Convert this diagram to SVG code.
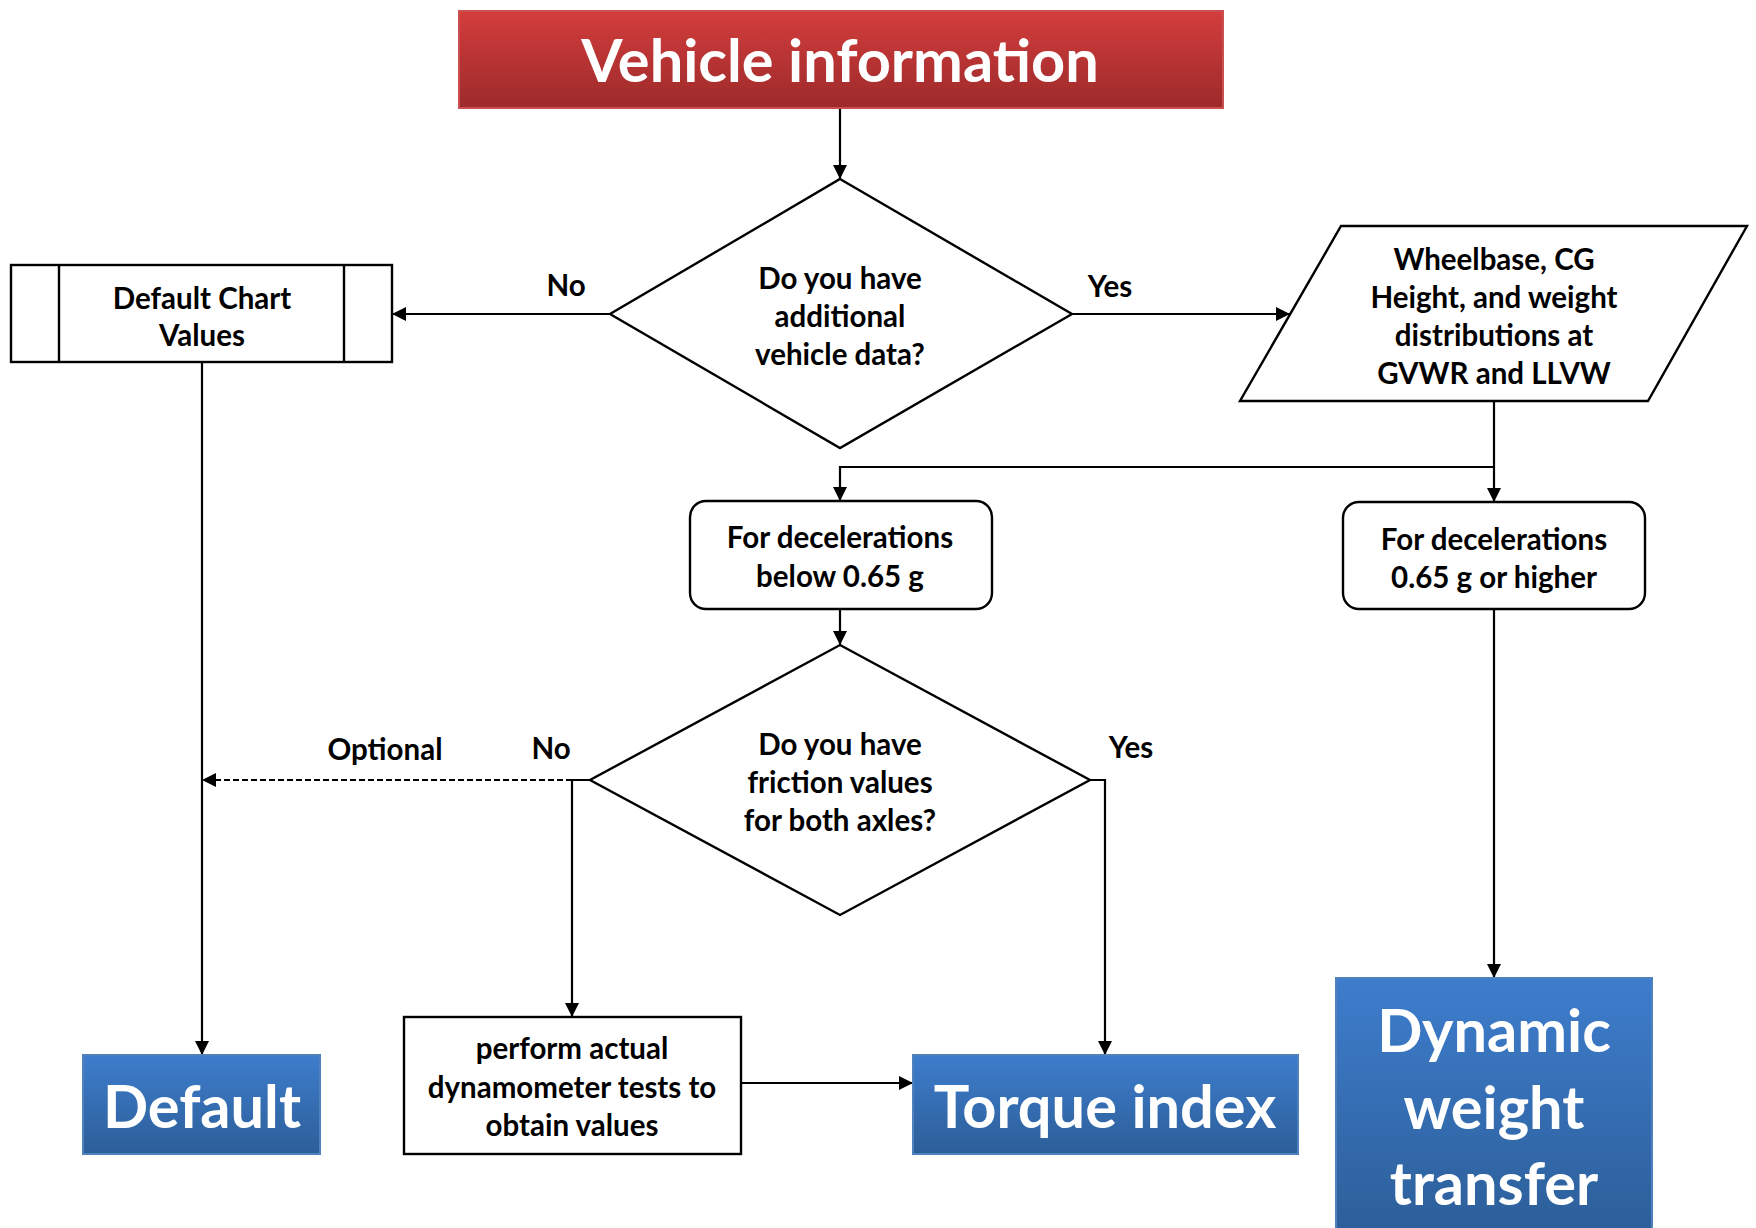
<svg xmlns="http://www.w3.org/2000/svg" width="1756" height="1228" viewBox="0 0 1756 1228">
<style>
.shape{fill:#fff;stroke:#000;stroke-width:2.4}
.t{font-family:Lato,"Open Sans","Liberation Sans",sans-serif;font-weight:bold;font-size:29.5px;fill:#000;text-anchor:middle;dominant-baseline:central}
.lbl{font-family:Lato,"Open Sans","Liberation Sans",sans-serif;font-weight:bold;font-size:29.5px;fill:#000;text-anchor:middle;dominant-baseline:central}
.big{font-family:Lato,"Open Sans","Liberation Sans",sans-serif;font-weight:bold;font-size:59.5px;fill:#fff;text-anchor:middle;dominant-baseline:central}
.conn{fill:none;stroke:#000;stroke-width:2.2}
.dash{stroke-dasharray:6 3}
</style>
<defs>
<linearGradient id="red" x1="0" y1="0" x2="0" y2="1">
<stop offset="0" stop-color="#D33D3D"/><stop offset="1" stop-color="#9D2A2A"/>
</linearGradient>
<linearGradient id="blue" x1="0" y1="0" x2="0" y2="1">
<stop offset="0" stop-color="#3E7DCD"/><stop offset="1" stop-color="#2C5E98"/>
</linearGradient>
<marker id="arr" markerUnits="userSpaceOnUse" markerWidth="15" markerHeight="14" refX="14" refY="7" orient="auto">
<path d="M0,0 L14,7 L0,14 z" fill="#000"/>
</marker>
</defs>

<g id="connectors">
<path class="conn" d="M840,108 V179" marker-end="url(#arr)"/>
<path class="conn" d="M610,314 H392" marker-end="url(#arr)"/>
<path class="conn" d="M1072,314 H1290" marker-end="url(#arr)"/>
<path class="conn" d="M1494,401 V502" marker-end="url(#arr)"/>
<path class="conn" d="M1494,467 H840 V501" marker-end="url(#arr)"/>
<path class="conn" d="M840,609 V645" marker-end="url(#arr)"/>
<path class="conn" d="M202,362 V1055" marker-end="url(#arr)"/>
<path class="conn dash" d="M572,780 H202" marker-end="url(#arr)"/>
<path class="conn" d="M590,780 H572 V1017" marker-end="url(#arr)"/>
<path class="conn" d="M1090,780 H1105 V1055" marker-end="url(#arr)"/>
<path class="conn" d="M741,1083 H913" marker-end="url(#arr)"/>
<path class="conn" d="M1494,609 V978" marker-end="url(#arr)"/>
<text class="lbl" x="566" y="284">No</text>
<text class="lbl" x="1110" y="285">Yes</text>
<text class="lbl" x="385" y="748">Optional</text>
<text class="lbl" x="551" y="747">No</text>
<text class="lbl" x="1131" y="746">Yes</text>
</g>

<g id="vehicle-information">
<rect x="459" y="11" width="764" height="97" fill="url(#red)" stroke="#C9504E" stroke-width="2"/>
<text class="big" x="840" y="59">Vehicle information</text>
</g>

<g id="decision-vehicle-data">
<polygon class="shape" points="840,179 1072,314 840,448 610,314"/>
<text class="t" x="840" y="277">Do you have</text>
<text class="t" x="840" y="315">additional</text>
<text class="t" x="840" y="353">vehicle data?</text>
</g>

<g id="default-chart-values">
<rect class="shape" x="11" y="265" width="381" height="97"/>
<line class="shape" x1="59" y1="265" x2="59" y2="362"/>
<line class="shape" x1="344" y1="265" x2="344" y2="362"/>
<text class="t" x="202" y="297">Default Chart</text>
<text class="t" x="202" y="334">Values</text>
</g>

<g id="vehicle-data-input">
<polygon class="shape" points="1341,226 1747,226 1648,401 1240,401"/>
<text class="t" x="1494" y="258">Wheelbase, CG</text>
<text class="t" x="1494" y="296">Height, and weight</text>
<text class="t" x="1494" y="334">distributions at</text>
<text class="t" x="1494" y="372">GVWR and LLVW</text>
</g>

<g id="decel-below">
<rect class="shape" x="690" y="501" width="302" height="108" rx="16"/>
<text class="t" x="840" y="536">For decelerations</text>
<text class="t" x="840" y="575">below 0.65 g</text>
</g>

<g id="decel-higher">
<rect class="shape" x="1343" y="502" width="302" height="107" rx="16"/>
<text class="t" x="1494" y="538">For decelerations</text>
<text class="t" x="1494" y="576">0.65 g or higher</text>
</g>

<g id="decision-friction">
<polygon class="shape" points="840,645 1090,780 840,915 590,780"/>
<text class="t" x="840" y="743">Do you have</text>
<text class="t" x="840" y="781">friction values</text>
<text class="t" x="840" y="819">for both axles?</text>
</g>

<g id="dynamometer-tests">
<rect class="shape" x="404" y="1017" width="337" height="137"/>
<text class="t" x="572" y="1047">perform actual</text>
<text class="t" x="572" y="1086">dynamometer tests to</text>
<text class="t" x="572" y="1124">obtain values</text>
</g>

<g id="default">
<rect x="83" y="1055" width="237" height="99" fill="url(#blue)" stroke="#4F81BD" stroke-width="2"/>
<text class="big" x="202" y="1105">Default</text>
</g>

<g id="torque-index">
<rect x="913" y="1055" width="385" height="99" fill="url(#blue)" stroke="#4F81BD" stroke-width="2"/>
<text class="big" x="1105" y="1105">Torque index</text>
</g>

<g id="dynamic-weight-transfer">
<rect x="1336" y="978" width="316" height="260" fill="url(#blue)" stroke="#4F81BD" stroke-width="2"/>
<text class="big" x="1494" y="1029">Dynamic</text>
<text class="big" x="1494" y="1106">weight</text>
<text class="big" x="1494" y="1182">transfer</text>
</g>
</svg>
